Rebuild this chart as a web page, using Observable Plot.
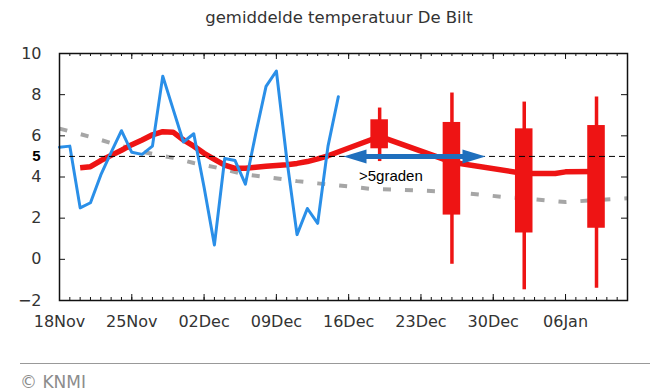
<!DOCTYPE html>
<html><head><meta charset="utf-8">
<script src="https://cdn.jsdelivr.net/npm/d3@7"></script>
<script src="https://cdn.jsdelivr.net/npm/@observablehq/plot@0.6"></script>
<style>
body{margin:0;background:#fff;font-family:"DejaVu Sans",sans-serif;}
#wrap{width:663px;height:392px;position:relative;overflow:hidden}
#title{height:36px;line-height:36px;text-align:center;font-size:16.5px;color:#333;padding-left:15px;box-sizing:border-box;width:663px}
#chart{height:300px}
#foot{position:absolute;left:20px;top:363px;width:630px;border-top:1px solid #999;}
#cap{position:absolute;left:20px;top:372px;font-size:17px;color:#8c8c8c}
</style></head><body>
<div id="wrap"><div id="title">gemiddelde temperatuur De Bilt</div><div id="chart"></div><div id="foot"></div><div id="cap">© KNMI</div></div>
<script>
// ---- data ----
const startDate = "2023-11-18";
const endDate = "2024-01-12";
// observed daily mean temperature (blue), one value per day from startDate
const obsTemp = [5.45, 5.5, 2.5, 2.75, 4.1, 5.2, 6.25, 5.2, 5.1, 5.5, 8.9, 7.3, 5.7, 6.1, 3.5, 0.7, 4.9, 4.8, 3.65, 6.1, 8.4, 9.15, 4.9, 1.2, 2.47, 1.75, 5.5, 7.9];
// model / ensemble mean (red line): day offsets and values
const meanDays = [2,3,4,5,6,7,8,9,10,11,12,13,14,15,16,17,18,19,20,21,22,23,24,25,26,31,38,45,48,49,52];
const meanTemp = [4.45,4.5,4.8,5.05,5.3,5.57,5.8,6.05,6.2,6.18,5.8,5.5,5.15,4.86,4.58,4.42,4.43,4.47,4.52,4.56,4.6,4.66,4.75,4.88,5.03,5.97,4.72,4.17,4.17,4.25,4.27];
// climatological normal (grey dashed)
const normDays = [0,3,5,8,11,13,15,18,20,23,25,28,30,33,38,43,45,49,52,55];
const normTemp = [6.35,5.95,5.65,5.22,4.93,4.68,4.48,4.12,4.0,3.8,3.69,3.54,3.43,3.38,3.28,3.03,2.96,2.78,2.88,2.97];
// weekly ensemble boxes
const boxDates = ["2023-12-19","2023-12-26","2024-01-02","2024-01-09"];
const boxLow  = [4.75, -0.24, -1.48, -1.4];
const boxQ1   = [5.37, 2.15, 1.28, 1.51];
const boxQ3   = [6.78, 6.65, 6.34, 6.5];
const boxHigh = [7.35, 8.08, 7.64, 7.89];
// axis ticks
const xTickDates = ["2023-11-18","2023-11-25","2023-12-02","2023-12-09","2023-12-16","2023-12-23","2023-12-30","2024-01-06"];
const yTicks = [-2, 0, 2, 4, 6, 8, 10];
const refLevel = 5;
// annotation
const arrowFromDay = 27.5, arrowToDay = 41.25;
const annotText = ">5graden";
const annotDay = 29.0, annotTemp = 4.05;

// ---- build ----
const W = 663, H = 300, mT = 17, mB = 36, mL = 59, mR = 36;
const frameH = H - mT - mB, frameW = W - mL - mR;
const t0 = new Date(startDate + "T00:00:00Z");
const dayDate = n => new Date(t0.getTime() + n * 864e5);
const parse = s => new Date(s + "T00:00:00Z");
const obs = obsTemp.map((v, i) => ({date: dayDate(i), v}));
const mean = meanDays.map((d, i) => ({date: dayDate(d), v: meanTemp[i]}));
const norm = normDays.map((d, i) => ({date: dayDate(d), v: normTemp[i]}));
const boxes = boxDates.map((s, i) => ({date: parse(s), low: boxLow[i], q1: boxQ1[i], q3: boxQ3[i], high: boxHigh[i]}));
const majorTicks = xTickDates.map(parse);
const minorTicks = d3.utcDays(t0, new Date(parse(endDate).getTime() + 1));
const arrowRow = [{x1: dayDate(arrowFromDay), x2: dayDate(arrowToDay), y: refLevel}];

const red = "#ee1414", blue = "#2a8fe8", arrowBlue = "#1f6fbd", ink = "#111";
const headLeft = {draw(c) { c.moveTo(0, 0); c.lineTo(23, -7); c.lineTo(23, 7); c.closePath(); }};
const headRight = {draw(c) { c.moveTo(0, 0); c.lineTo(-23, -7); c.lineTo(-23, 7); c.closePath(); }};
const half = 0.85 * 864e5;

const chart = Plot.plot({
  width: W, height: H,
  marginTop: mT, marginBottom: mB, marginLeft: mL, marginRight: mR,
  style: {fontFamily: "DejaVu Sans, sans-serif", fontSize: "16px", background: "transparent", overflow: "visible"},
  x: {type: "utc", domain: [t0, parse(endDate)]},
  y: {domain: [-2, 10]},
  marks: [
    Plot.line(norm, {x: "date", y: "v", stroke: "#a6a6a6", strokeWidth: 4, strokeDasharray: "8,14", strokeLinecap: "butt"}),
    Plot.line(mean, {x: "date", y: "v", stroke: red, strokeWidth: 5.5, strokeLinecap: "butt"}),
    Plot.ruleX(boxes, {x: "date", y1: "low", y2: "high", stroke: red, strokeWidth: 3.5}),
    Plot.rect(boxes, {x1: d => new Date(d.date.getTime() - half), x2: d => new Date(d.date.getTime() + half), y1: "q1", y2: "q3", fill: red}),
    Plot.line(obs, {x: "date", y: "v", stroke: blue, strokeWidth: 3}),
    Plot.ruleY([refLevel], {stroke: "#000", strokeWidth: 1, strokeDasharray: "6,4"}),
    Plot.arrow(arrowRow, {x1: "x1", x2: "x2", y1: "y", y2: "y", stroke: arrowBlue, strokeWidth: 5, headLength: 0, insetStart: 14, insetEnd: 14}),
    Plot.dot(arrowRow, {x: "x1", y: "y", symbol: headLeft, fill: arrowBlue, stroke: null}),
    Plot.dot(arrowRow, {x: "x2", y: "y", symbol: headRight, fill: arrowBlue, stroke: null}),
    Plot.text([annotText], {x: dayDate(annotDay), y: annotTemp, text: d => d, textAnchor: "start", fontSize: 15, fontFamily: "Liberation Sans, Arial, sans-serif", fill: "#000"}),
    // inward tick marks on all four sides
    Plot.tickX(minorTicks, {x: d => d, insetTop: frameH - 3, stroke: ink}),
    Plot.tickX(majorTicks, {x: d => d, insetTop: frameH - 6, stroke: ink}),
    Plot.tickX(minorTicks, {x: d => d, insetBottom: frameH - 3, stroke: ink}),
    Plot.tickX(majorTicks, {x: d => d, insetBottom: frameH - 6, stroke: ink}),
    Plot.tickY(yTicks, {y: d => d, insetRight: frameW - 6, stroke: ink}),
    Plot.tickY(yTicks, {y: d => d, insetLeft: frameW - 6, stroke: ink}),
    Plot.frame({stroke: ink, strokeWidth: 1.5}),
    Plot.axisX(majorTicks, {anchor: "bottom", tickSize: 0, tickPadding: 15, tickFormat: d3.utcFormat("%d%b"), fontSize: 16, fill: "#333"}),
    Plot.axisY(yTicks, {anchor: "left", tickSize: 0, tickPadding: 18, fontSize: 16, fill: "#333"}),
    Plot.text([refLevel], {frameAnchor: "left", y: d => d, text: d => String(d), textAnchor: "end", dx: -19, fontSize: 15, fontWeight: "bold", fontFamily: "Liberation Sans, Arial, sans-serif", fill: "#000"})
  ]
});
document.getElementById("chart").appendChild(chart);
</script>
</body></html>
